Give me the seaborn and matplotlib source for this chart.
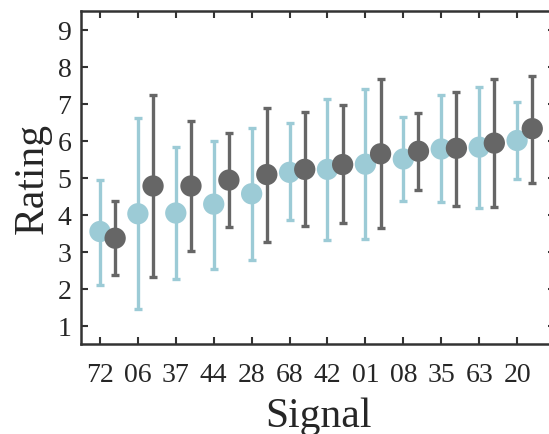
import numpy as np
import pandas as pd
import matplotlib
matplotlib.use("Agg")
import matplotlib.pyplot as plt
import seaborn as sns

signals = ["72", "06", "37", "44", "28", "68", "42", "01", "08", "35", "63", "20"]

# light blue series
blue_mean = [3.54, 4.02, 4.04, 4.28, 4.56, 5.14, 5.22, 5.36, 5.50, 5.77, 5.82, 6.00]
blue_low = [2.10, 1.45, 2.26, 2.54, 2.76, 3.86, 3.32, 3.34, 4.37, 4.33, 4.18, 4.97]
blue_high = [4.94, 6.60, 5.83, 6.00, 6.35, 6.48, 7.13, 7.39, 6.63, 7.23, 7.44, 7.04]

# dark grey series
dark_mean = [3.36, 4.77, 4.77, 4.93, 5.08, 5.22, 5.35, 5.64, 5.71, 5.79, 5.93, 6.32]
dark_low = [2.36, 2.32, 3.01, 3.66, 3.25, 3.70, 3.76, 3.64, 4.66, 4.23, 4.21, 4.86]
dark_high = [4.37, 7.23, 6.54, 6.21, 6.89, 6.76, 6.96, 7.65, 6.75, 7.32, 7.66, 7.74]

blue_col = "#9ccbd6"
dark_col = "#666666"
spine_col = "#333333"

sns.set_style("ticks")
plt.rcParams["font.family"] = ["Liberation Serif", "DejaVu Serif"]

idx = np.arange(len(signals))
df = pd.concat([
    pd.DataFrame({"x": idx, "mean": blue_mean, "low": blue_low, "high": blue_high, "group": "a"}),
    pd.DataFrame({"x": idx + 0.4, "mean": dark_mean, "low": dark_low, "high": dark_high, "group": "b"}),
], ignore_index=True)

fig = plt.figure(figsize=(5.49, 4.35), dpi=100)
ax = fig.add_axes([81 / 549, 1 - 345 / 435, (555 - 81) / 549, (345 - 12) / 435])

for g, col in [("a", blue_col), ("b", dark_col)]:
    d = df[df["group"] == g]
    ax.errorbar(d["x"], d["mean"], yerr=[d["mean"] - d["low"], d["high"] - d["mean"]],
                fmt="none", ecolor=col, elinewidth=2.4, capsize=3.2, capthick=2.4, zorder=2)
    sns.scatterplot(data=d, x="x", y="mean", color=col, s=235, edgecolor="none",
                    ax=ax, zorder=3, legend=False)

ax.set_xlim(-0.5, 12)
ax.set_ylim(0.5, 9.5)
ax.set_xticks(idx)
ax.set_xticklabels(signals)
ax.set_yticks(range(1, 10))
ax.set_xlabel("Signal", fontsize=30, labelpad=7)
ax.set_ylabel("Rating", fontsize=30, labelpad=4)
ax.tick_params(direction="in", length=5, width=1.5, color=spine_col,
               top=True, right=True, labelsize=20, pad=7)
ax.tick_params(axis="x", pad=13)
for s in ax.spines.values():
    s.set_color(spine_col)
    s.set_linewidth(1.8)

fig.savefig("out.png", dpi=100)
